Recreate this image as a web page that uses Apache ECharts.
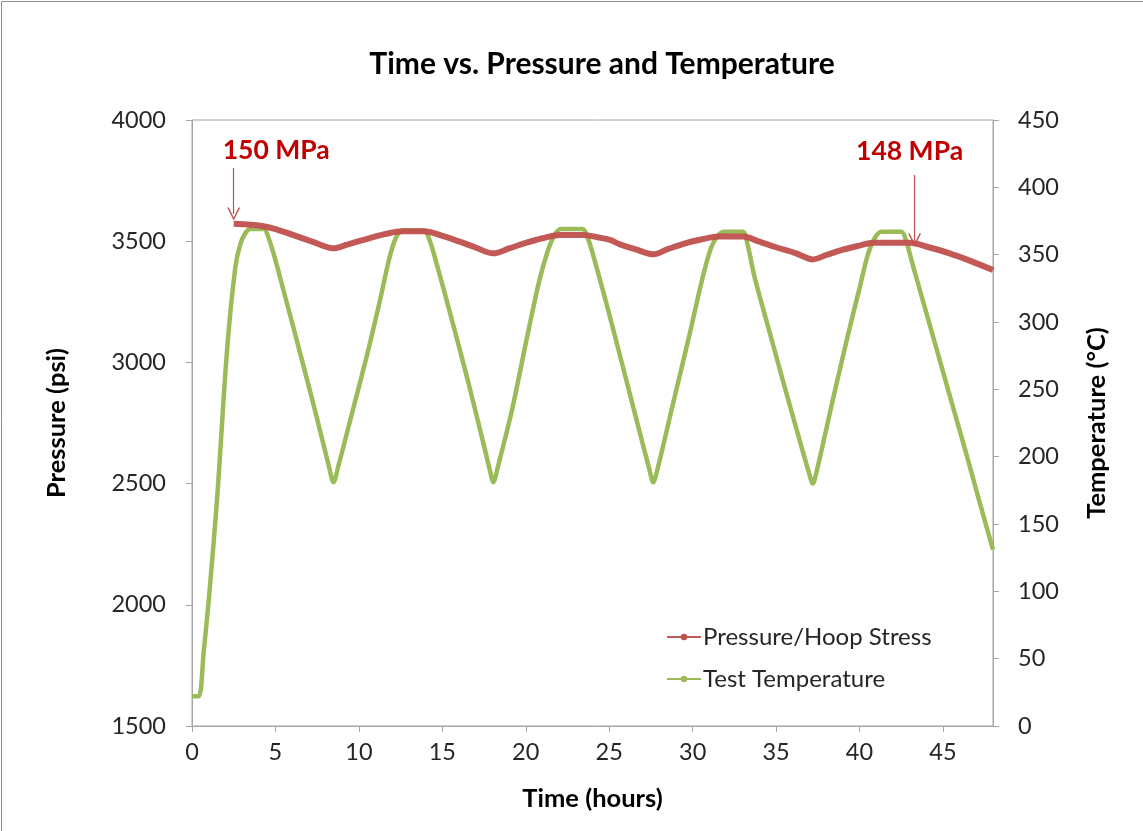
<!DOCTYPE html>
<html>
<head>
<meta charset="utf-8">
<title>Time vs. Pressure and Temperature</title>
<script src="https://cdn.jsdelivr.net/npm/echarts@6/dist/echarts.min.js"></script>
<style>
  html, body { margin: 0; padding: 0; background: #fff; }
  #chart { width: 1143px; height: 831px; }
</style>
</head>
<body>
<div id="chart"></div>
<script>
// Pressure in the test vessel, [time (h), pressure (psi)]
const pressure = [
  [2.5, 3572], [3.3, 3569], [4.2, 3563], [5.0, 3550], [6.0, 3527], [7.2, 3498],
  [8.47, 3471], [9.3, 3486], [10.5, 3510], [11.6, 3530], [12.6, 3541], [13.9, 3541],
  [15.0, 3522], [16.0, 3499], [17.0, 3474], [18.06, 3450], [19.0, 3470], [20.0, 3493],
  [21.0, 3512], [22.05, 3526], [23.45, 3526], [24.3, 3516], [25.05, 3505], [25.65, 3487],
  [26.6, 3466], [27.64, 3446], [28.5, 3467], [29.5, 3490], [30.5, 3507], [31.6, 3519],
  [33.0, 3519], [34.0, 3498], [35.0, 3475], [36.2, 3450], [37.2, 3425], [38.0, 3443],
  [39.0, 3465], [40.0, 3482], [40.8, 3494], [43.0, 3494], [44.2, 3474], [45.4, 3450],
  [46.6, 3420], [48.0, 3381]
];

// Test temperature, [time (h), temperature (°C)]
const temperature = [
  [0, 22], [0.4, 22], [0.7, 55], [1.0, 93], [1.5, 168], [2.1, 279], [2.6, 341],
  [2.9, 358], [3.2, 366], [3.5, 369], [4.3, 369], [4.6, 362], [5.0, 346], [5.6, 318],
  [6.5, 276], [7.5, 228], [8.2, 193], [8.48, 181], [8.75, 192], [9.5, 228], [10.5, 276],
  [11.3, 318], [11.8, 346], [12.2, 362], [12.6, 368], [13.9, 368], [14.2, 362],
  [14.6, 346], [15.5, 305], [16.5, 258], [17.5, 208], [17.85, 190], [18.06, 181],
  [18.3, 191], [19.2, 236], [20.1, 290], [20.8, 330], [21.3, 352], [21.7, 364],
  [22.1, 369], [23.4, 369], [23.7, 363], [24.1, 347], [25.0, 306], [26.0, 258],
  [27.0, 210], [27.4, 191], [27.64, 181], [27.9, 191], [28.8, 238], [29.8, 290],
  [30.6, 333], [31.1, 355], [31.5, 364], [31.9, 367], [33.0, 367], [33.3, 357],
  [33.7, 334], [34.6, 293], [35.6, 248], [36.6, 204], [36.95, 189], [37.2, 180],
  [37.45, 190], [38.4, 242], [39.3, 290], [40.0, 325], [40.5, 350], [40.9, 362],
  [41.3, 367], [42.5, 367], [42.8, 360], [43.2, 342], [44.0, 307], [44.8, 272],
  [45.6, 237], [46.4, 202], [47.2, 166], [48.0, 131]
];

// Hoop-stress call-outs: label text, label anchor [h, psi], arrow from/to [h, psi]
const calloutText = ['150 MPa', '148 MPa'];
const calloutLabelAt = [[5.05, 3876], [43.0, 3869]];
const calloutArrowFrom = [[2.5, 3802], [43.3, 3773]];
const calloutArrowTo = [[2.5, 3612], [43.3, 3505]];

const seriesNames = ['Pressure/Hoop Stress', 'Test Temperature'];

const FONT = 'Lato, "Open Sans", sans-serif';
const AXIS_GREY = '#a6a6a6';
const TEXT = '#262626';
const RED = '#c0504d';
const GREEN = '#9bbb59';
const LABEL_RED = '#c00000';

const chart = echarts.init(document.getElementById('chart'), null, { renderer: 'canvas' });

// open chevron used as the arrow head of the call-out lines
const arrowHead = 'path://M0,10 L5,0 L10,10 L8.8,10 L5,2.4 L1.2,10 Z';

const plain = v => String(v);

chart.setOption({
  animation: false,
  backgroundColor: '#ffffff',
  textStyle: { fontFamily: FONT },
  title: {
    text: 'Time vs. Pressure and Temperature',
    left: 597,
    textAlign: 'center',
    top: 44,
    textStyle: { fontFamily: FONT, fontWeight: 'bold', fontSize: 30, color: '#000' }
  },
  graphic: [{
    type: 'rect',
    shape: { x: 1.5, y: 1.5, width: 1300, height: 1000 },
    style: { fill: 'none', stroke: '#8c8c8c', lineWidth: 1 },
    silent: true
  }],
  grid: {
    left: 192, right: 150, top: 120, bottom: 105,
    show: true, borderColor: AXIS_GREY, borderWidth: 1, backgroundColor: 'transparent'
  },
  legend: {
    orient: 'vertical',
    left: 661,
    top: 620,
    itemWidth: 34,
    itemHeight: 8,
    itemGap: 18,
    textStyle: { fontFamily: FONT, fontSize: 24, color: TEXT, padding: [0, 0, 0, -3] },
    data: seriesNames
  },
  xAxis: {
    type: 'value',
    min: 0, max: 48, interval: 5,
    name: 'Time (hours)',
    nameLocation: 'middle',
    nameGap: 60,
    nameTextStyle: { fontFamily: FONT, fontWeight: 'bold', fontSize: 25.5, color: '#000' },
    axisLine: { show: true, lineStyle: { color: AXIS_GREY, width: 1 } },
    axisTick: { show: true, length: 6, lineStyle: { color: AXIS_GREY } },
    axisLabel: { fontFamily: FONT, fontSize: 23.5, color: TEXT, margin: 14, showMaxLabel: false, formatter: plain },
    splitLine: { show: false }
  },
  yAxis: [{
    type: 'value',
    min: 1500, max: 4000, interval: 500,
    name: 'Pressure (psi)',
    nameLocation: 'middle',
    nameGap: 122,
    nameTextStyle: { fontFamily: FONT, fontWeight: 'bold', fontSize: 25.5, color: '#000' },
    axisLine: { show: true, lineStyle: { color: AXIS_GREY, width: 1 } },
    axisTick: { show: true, length: 6, lineStyle: { color: AXIS_GREY } },
    axisLabel: { fontFamily: FONT, fontSize: 23.5, color: TEXT, margin: 26, formatter: plain },
    splitLine: { show: false }
  }, {
    type: 'value',
    min: 0, max: 450, interval: 50,
    name: 'Temperature (°C)',
    nameLocation: 'middle',
    nameGap: 91,
    nameRotate: 90,
    nameTextStyle: { fontFamily: FONT, fontWeight: 'bold', fontSize: 25.5, color: '#000' },
    axisLine: { show: true, lineStyle: { color: AXIS_GREY, width: 1 } },
    axisTick: { show: true, length: 6, lineStyle: { color: AXIS_GREY } },
    axisLabel: { fontFamily: FONT, fontSize: 23.5, color: TEXT, margin: 25, formatter: plain },
    splitLine: { show: false }
  }],
  series: [{
    name: seriesNames[0],
    type: 'line',
    yAxisIndex: 0,
    data: pressure,
    smooth: 0.35,
    symbol: 'circle',
    symbolSize: 4,
    showSymbol: false,
    z: 3,
    itemStyle: { color: RED },
    lineStyle: { color: RED, width: 6, opacity: 0.95 },
    markLine: {
      silent: true,
      symbol: ['none', arrowHead],
      symbolSize: [13, 13],
      lineStyle: { color: RED, width: 1.2, type: 'solid' },
      label: { show: false },
      data: calloutArrowFrom.map((from, i) => [
        { coord: from },
        { coord: calloutArrowTo[i] }
      ])
    },
    markPoint: {
      silent: true,
      symbol: 'circle',
      symbolSize: 0,
      label: {
        show: true,
        position: 'inside',
        fontFamily: FONT,
        fontWeight: 'bold',
        fontSize: 26.5,
        color: LABEL_RED,
        formatter: p => p.name
      },
      data: calloutText.map((t, i) => ({ name: t, coord: calloutLabelAt[i] }))
    }
  }, {
    name: seriesNames[1],
    type: 'line',
    yAxisIndex: 1,
    data: temperature,
    smooth: 0.3,
    symbol: 'circle',
    symbolSize: 4,
    showSymbol: false,
    z: 2,
    itemStyle: { color: GREEN },
    lineStyle: { color: GREEN, width: 4.5 }
  }]
});
</script>
</body>
</html>
